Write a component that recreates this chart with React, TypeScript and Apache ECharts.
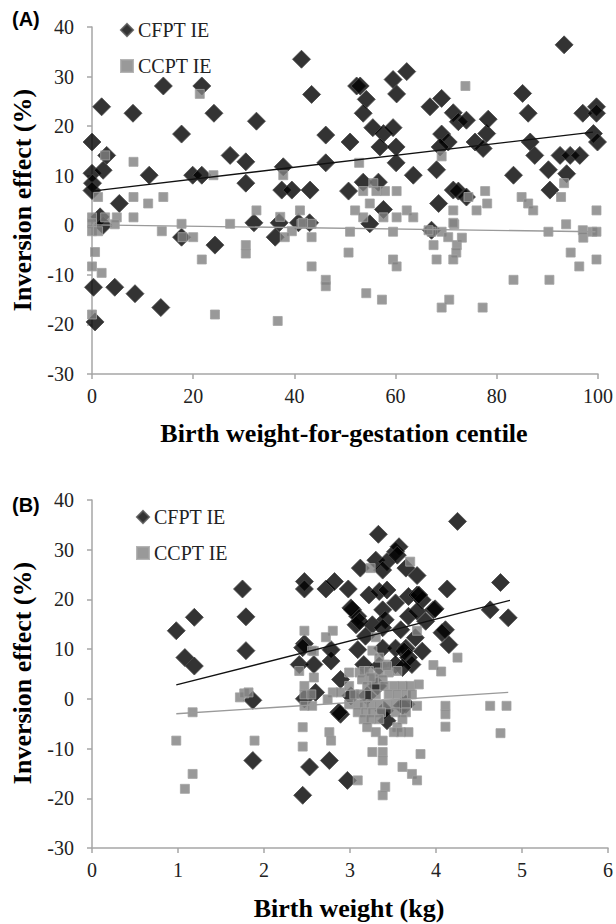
import React, { useEffect, useRef } from "react";
import * as echarts from "echarts";

// ---------- Panel A: Birth weight-for-gestation centile ----------
const xRangeA = { min: 0, max: 100, interval: 20 };
const yRange = { min: -30, max: 40, interval: 10 };

const cfptA: number[][] = [
  [0, 16.8], [0, 10.5], [0.1, 8.5], [0, 7], [1.9, 23.9], [2.9, 14.1], [2.2, 11.1], [8.1, 22.6], [5.4, 4.4],
  [11.3, 10.1], [14.1, 28.1], [17.7, 18.4], [21.7, 28.1], [19.9, 10.1], [21.7, 10.1], [24.1, 22.6], [27.3, 14.1],
  [30.4, 12.8], [30.4, 8.5], [32.5, 21.0], [32, 0.5], [37.8, 11.8], [37.5, 7.1], [39.5, 7.1], [43.1, 7.1],
  [41.4, 33.5], [43.4, 26.4], [37, 0.5], [40.8, 0.5], [43, 0.5],
  [17.7, -2.4], [24.3, -4.0], [0.3, -12.5], [0.6, -19.5], [4.5, -12.5], [8.5, -13.8], [13.6, -16.6], [1.6, 1.7],
  [2.2, 0], [36.2, -2.4],
  [46.2, 18.2], [46.2, 12.6], [51.0, 16.8], [50.7, 6.9], [52.3, 28.1], [53, 28.1], [54.2, 25.4], [53.6, 22.6],
  [55.5, 19.7], [57.6, 18.5], [56.9, 15.8], [59.5, 19.7], [60.1, 15.8], [60.1, 12.6], [59.5, 29.4], [62.2, 31.0],
  [60.2, 26.5], [63.5, 10.1], [53.6, 8.7], [56.6, 8.7], [57.6, 3.2], [54.9, 0.3],
  [66.8, 23.9], [69.1, 25.6], [71.4, 22.7], [72.4, 20.9], [74.0, 21.2], [69.1, 18.4], [70.4, 16.8], [68.8, 15.8],
  [68.1, 11.2], [68.5, 4.4], [71.4, 7.1], [72.4, 6.9], [74.0, 5.7], [75.7, 16.8], [77.3, 15.5], [78.0, 18.5],
  [78.3, 21.4], [83.3, 10.1], [85.1, 26.6], [86.2, 22.6], [86.6, 16.8], [87.5, 14.1], [90.2, 11.2], [90.5, 7.1],
  [92.5, 14.1], [93.8, 10.4], [94.5, 14.1], [96.4, 14.1], [93.3, 36.4], [97.0, 22.6], [99.7, 23.9], [99.7, 22.6],
  [99.1, 18.5], [99.9, 16.8], [67.1, -1.0],
];

const ccptA: number[][] = [
  [2.6, 14.1], [1.2, 5.7], [8.2, 12.8], [8.2, 5.7], [11.1, 4.4], [14.1, 5.7], [8.2, 1.6], [4.9, 1.6], [2.6, 1.6],
  [0, 1.6], [0, 0.4], [4.5, 0.2], [17.7, 0.3], [21.3, 26.5], [24, 10.1], [27.3, 0.3], [13.8, -1.2], [32.5, 3.0],
  [37.2, 1.7], [37.8, 10.1], [41.1, 3.0], [39.5, -1.2], [41.4, 0.3], [43.4, 0.3], [0, -1.2], [1.2, -1.2],
  [0.6, -5.4], [0, -8.3], [1.9, -9.6], [0, -18.0], [17.9, -2.4], [20, -2.4], [21.7, -6.9], [24.3, -18.0],
  [30.4, -4.0], [30.4, -5.7], [36.7, -19.3], [38.1, -2.4], [43.4, -2.4], [43.4, -8.3],
  [46.2, -11.0], [46.2, -12.3], [51.0, -1.3], [50.7, -5.5], [54.2, -13.7], [57.3, -15.0], [59.5, -1.3],
  [59.5, -6.9], [60.2, -8.3], [67.1, -1.3], [67.5, -4.0], [68.1, -6.9], [69.1, -1.3], [69.1, -16.6],
  [70.6, -15.0], [70.4, -2.4], [71.6, 0.2], [72.1, -4.0], [72, -5.5], [71.4, -6.9], [73.1, -2.5], [77.2, -16.6],
  [83.3, -11.0], [90.2, -1.3], [90.4, -11.0], [93.7, 0.2], [94.6, -5.5], [96.3, -8.3], [97.1, -2.5], [98.9, -1.3],
  [99.7, -1.3], [99.7, -6.9],
  [52.8, 12.6], [73.8, 28.1], [69.1, 13.9], [53.6, 6.9], [55.6, 8.5], [56.2, 6.9], [57.9, 6.9], [60.2, 6.9],
  [54.9, 4.4], [52.0, 3.0], [53.6, 1.6], [57.6, 1.6], [60.2, 1.6], [62.2, 3.0], [63.5, 1.6], [41.7, 0.5],
  [71.4, 3.0], [71.4, 0.5], [74.4, 5.7], [76.0, 3.0], [77.7, 6.9], [78.1, 4.4], [84.9, 5.7], [86.2, 4.4],
  [87.2, 3.0], [92.7, 5.7], [93.3, 8.5], [99.7, 3.0], [97, -1.0], [66.5, -1.0],
];

const trendCfptA: number[][] = [[0, 6.9], [99, 18.8]];
const trendCcptA: number[][] = [[0, 0.1], [99.5, -1.3]];

// ---------- Panel B: Birth weight (kg) ----------
const xRangeB = { min: 0, max: 6, interval: 1 };

const cfptB: number[][] = [
  [0.98, 13.7], [1.08, 8.3], [1.19, 16.4], [1.19, 6.6], [1.75, 22.1], [1.79, 16.5], [1.79, 9.7], [1.87, -0.3],
  [1.87, -12.4],
  [2.45, -19.4], [2.53, -13.7], [2.76, -12.4], [2.97, -16.4], [2.89, -3.1], [3.43, -4.4], [3.01, 0.6], [3.20, 0.6],
  [3.65, -1.1], [2.47, 0], [2.87, -2.7], [3.40, -2.4],
  [2.47, 23.6], [2.47, 22.1], [2.72, 22.1], [2.82, 23.6], [2.98, 22.1], [2.47, 11.1], [2.45, 10.3], [2.41, 6.9],
  [2.58, 6.9], [2.78, 7.6], [2.78, 9.9], [2.89, 3.9], [2.60, 1.3],
  [3.33, 33.1], [4.25, 35.7], [3.12, 26.3], [3.30, 27.9], [3.43, 27.6], [3.53, 29.6], [3.57, 30.6], [3.38, 25.9],
  [3.65, 26.3], [3.78, 24.8], [3.55, 28.9],
  [3.22, 20.9], [3.34, 21.6], [3.43, 21.9], [3.68, 20.6], [3.78, 20.9], [3.84, 19.9], [3.53, 19.3], [3.80, 20.9],
  [3.03, 17.9], [3.09, 16.6], [3.38, 17.9], [3.41, 15.9], [3.68, 16.6], [3.78, 17.6], [3.88, 15.6], [3.97, 17.9],
  [3.01, 18.3], [3.07, 14.9],
  [3.26, 14.9], [3.38, 14.3], [3.59, 13.9], [3.11, 15.6], [3.18, 12.6], [3.76, 12.3],
  [3.09, 9.9], [3.38, 10.2], [3.53, 10.2], [3.65, 10.2], [3.84, 9.6], [3.63, 9.6], [3.68, 8.3],
  [3.34, 6.6], [3.53, 6.9], [3.72, 6.9], [3.16, 6.9], [3.61, 6.3], [3.32, 2.6], [3.61, -1.4],
  [4.13, 22.1], [4.75, 23.4], [4.63, 17.9], [3.99, 18.1], [4.11, 13.9], [4.07, 13.3], [4.15, 10.9],
  [4.84, 16.3],
];

const ccptB: number[][] = [
  [0.98, -8.4], [1.08, -18.1], [1.17, -15.1], [1.17, -2.7], [1.72, 0.3], [1.77, 1.1], [1.82, 1.3], [1.89, -8.4],
  [2.41, 5.6], [2.58, 4.3], [2.47, 2.6], [2.47, 0.9], [2.55, 0.9], [2.47, -1.4], [2.56, -1.4], [2.45, -5.7],
  [2.45, -9.6], [2.76, -6.7], [2.78, -8.4], [2.80, 1.3], [2.89, 1.3], [2.74, -0.1], [2.99, 5.3], [2.99, 2.6],
  [2.47, 13.7], [2.80, 13.7], [2.72, 12.4], [2.58, 9.6],
  [3.24, 26.3], [3.70, 27.6], [3.30, 12.4], [3.78, 13.7], [3.97, 6.8], [4.06, 5.5], [4.25, 8.3],
  [3.11, 5.3], [3.16, 5.6], [3.22, 5.6], [3.28, 3.9], [3.34, 5.3], [3.41, 6.9], [3.45, 5.3], [3.55, 5.6],
  [3.14, 3.9], [3.24, 4.3], [3.38, 3.9],
  [3.20, 2.6], [3.40, 2.6], [3.51, 2.6], [3.61, 2.6], [3.70, 2.6], [3.80, 2.9],
  [3.05, 0.9], [3.12, 0.9], [3.30, 0.9], [3.45, 0.9], [3.55, 0.9], [3.65, 0.9], [3.72, 0.9],
  [2.99, -1.1], [3.09, -1.1], [3.16, -1.1], [3.24, -1.1], [3.34, -1.1], [3.43, -1.1], [3.53, -1.1], [3.65, -1.1],
  [3.78, -1.4],
  [3.09, -2.7], [3.18, -2.7], [3.26, -2.7], [3.36, -2.7], [3.53, -2.7], [3.65, -2.7],
  [3.16, -4.1], [3.24, -4.1], [3.34, -4.1], [3.61, -4.1],
  [3.20, -5.7], [3.30, -6.7], [3.38, -8.4], [3.55, -5.7], [3.51, -6.7], [3.59, -6.7], [3.68, -6.7],
  [3.26, -10.7], [3.38, -10.7], [3.38, -12.4], [3.82, -11.1], [3.61, -13.7], [3.72, -15.1], [3.78, -16.4],
  [3.09, -16.4], [3.41, -17.7], [3.38, -19.4],
  [4.11, -1.4], [4.11, -3.1], [4.11, -5.6], [4.63, -1.4], [4.82, -1.4], [4.75, -6.9],
  [2.56, 9.7], [3.26, 9.7], [3.34, 8.3], [3.43, 6.6],
];

const trendCfptB: number[][] = [[0.98, 2.8], [4.86, 19.8]];
const trendCcptB: number[][] = [[0.98, -3.0], [4.84, 1.3]];

const seriesNames = ["CFPT IE", "CCPT IE"];
const panelLabels = ["(A)", "(B)"];
const xTitles = ["Birth weight-for-gestation centile", "Birth weight (kg)"];
const yTitle = "Inversion effect (%)";

const SERIF = "Liberation Serif";
const SANS = "Liberation Sans";
const AXIS_COLOR = "#a6a6a6";

function axisCommon() {
  return {
    type: "value" as const,
    axisLine: { show: true, onZero: false, lineStyle: { color: AXIS_COLOR, width: 1.5 } },
    axisTick: { show: true, inside: false, length: 5, lineStyle: { color: AXIS_COLOR, width: 1.5 } },
    splitLine: { show: false },
    axisLabel: { fontFamily: SERIF, fontSize: 20, color: "#222" },
  };
}

const diamondStyle = { color: "#000000", borderColor: "#4a4a4a", borderWidth: 1 };
const squareStyle = { color: "#808080", borderColor: "#a3a3a3", borderWidth: 1 };

function buildOption() {
  const grids = [
    { left: 92, top: 27, width: 506, height: 347 },
    { left: 92, top: 500, width: 518, height: 348 },
  ];
  const xAxes = [
    { ...axisCommon(), gridIndex: 0, ...xRangeA, axisLabel: { ...axisCommon().axisLabel, margin: 12 } },
    { ...axisCommon(), gridIndex: 1, ...xRangeB, axisLabel: { ...axisCommon().axisLabel, margin: 12 } },
  ];
  const yAxes = [
    { ...axisCommon(), gridIndex: 0, ...yRange, axisLabel: { ...axisCommon().axisLabel, margin: 18 } },
    { ...axisCommon(), gridIndex: 1, ...yRange, axisLabel: { ...axisCommon().axisLabel, margin: 18 } },
  ];
  const scatter = (name: string, data: number[][], idx: number, diamond: boolean) => ({
    type: "scatter",
    name,
    xAxisIndex: idx,
    yAxisIndex: idx,
    data,
    symbol: diamond ? "diamond" : "rect",
    symbolSize: diamond ? 18 : 9,
    itemStyle: diamond ? diamondStyle : squareStyle,
    silent: true,
  });
  const trend = (name: string, data: number[][], idx: number, color: string) => ({
    type: "line",
    name,
    xAxisIndex: idx,
    yAxisIndex: idx,
    data,
    symbol: "none",
    lineStyle: { color, width: 1.3 },
    silent: true,
    z: 5,
  });
  const legendCommon = {
    orient: "vertical" as const,
    itemGap: 16,
    itemWidth: 12,
    itemHeight: 12,
    textStyle: { fontFamily: SERIF, fontSize: 20, color: "#222" },
    data: [
      { name: seriesNames[0], icon: "diamond" },
      { name: seriesNames[1], icon: "rect" },
    ],
    selectedMode: false,
  };
  const titleFont = `bold 26px ${SERIF}`;
  const graphic = [
    { type: "text", left: 12, top: 9, style: { text: panelLabels[0], font: `bold 20px ${SANS}`, fill: "#000" } },
    { type: "text", left: 12, top: 495, style: { text: panelLabels[1], font: `bold 20px ${SANS}`, fill: "#000" } },
    {
      type: "text", x: 22, y: 200, rotation: Math.PI / 2,
      style: { text: yTitle, font: titleFont, fill: "#000", textAlign: "center", textVerticalAlign: "middle" },
    },
    {
      type: "text", x: 22, y: 673, rotation: Math.PI / 2,
      style: { text: yTitle, font: titleFont, fill: "#000", textAlign: "center", textVerticalAlign: "middle" },
    },
    {
      type: "text", x: 344, y: 433,
      style: { text: xTitles[0], font: titleFont, fill: "#000", textAlign: "center", textVerticalAlign: "middle" },
    },
    {
      type: "text", x: 349, y: 908,
      style: { text: xTitles[1], font: titleFont, fill: "#000", textAlign: "center", textVerticalAlign: "middle" },
    },
  ];
  return {
    animation: false,
    backgroundColor: "#fff",
    textStyle: { fontFamily: SERIF },
    grid: grids,
    xAxis: xAxes,
    yAxis: yAxes,
    legend: [
      { ...legendCommon, left: 115, top: 15 },
      { ...legendCommon, left: 131, top: 502 },
    ],
    graphic,
    series: [
      scatter(seriesNames[0], cfptA, 0, true),
      scatter(seriesNames[1], ccptA, 0, false),
      trend("CFPT trend A", trendCfptA, 0, "#111"),
      trend("CCPT trend A", trendCcptA, 0, "#9a9a9a"),
      scatter(seriesNames[0], cfptB, 1, true),
      scatter(seriesNames[1], ccptB, 1, false),
      trend("CFPT trend B", trendCfptB, 1, "#111"),
      trend("CCPT trend B", trendCcptB, 1, "#9a9a9a"),
    ],
  };
}

export default function App() {
  const ref = useRef<HTMLDivElement>(null);
  useEffect(() => {
    if (!ref.current) return;
    const chart = echarts.init(ref.current, null, { renderer: "svg" });
    chart.setOption(buildOption() as any);
    return () => chart.dispose();
  }, []);
  return (
    <div
      ref={ref}
      style={{ position: "absolute", left: 0, top: 0, width: 616, height: 924, background: "#fff" }}
    />
  );
}
